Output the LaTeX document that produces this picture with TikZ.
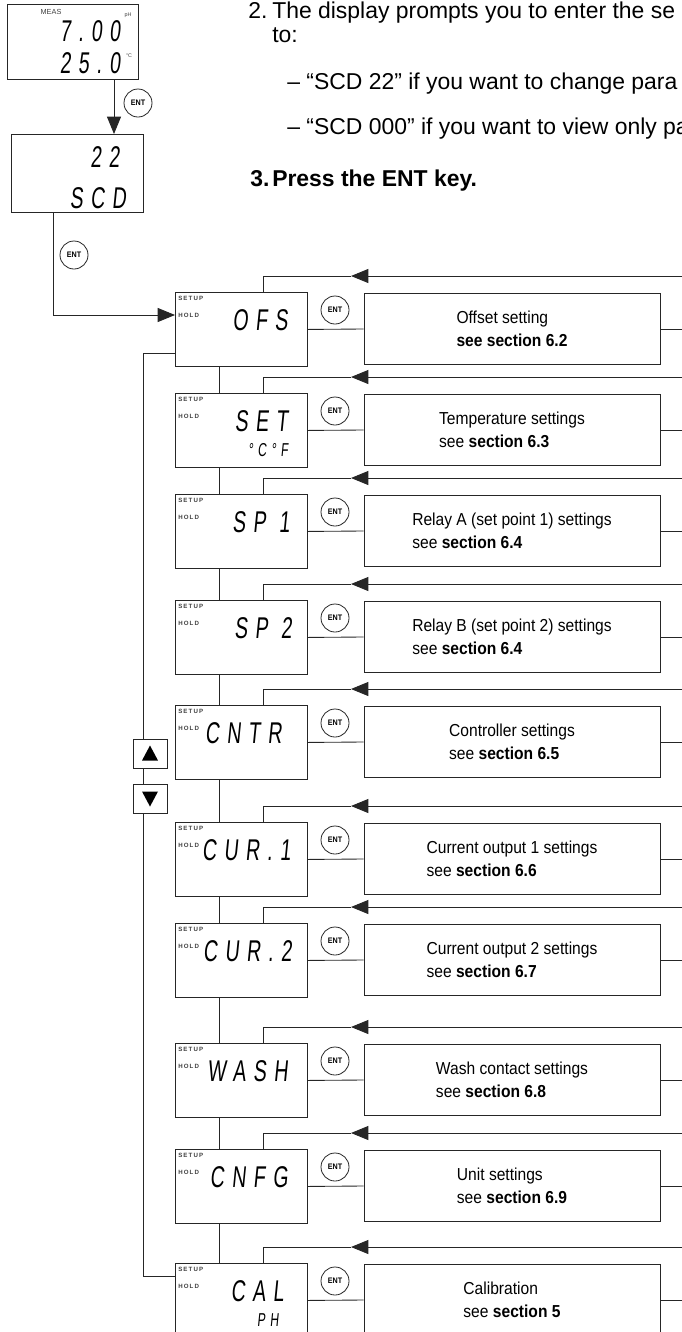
\documentclass[tikz,border=0pt]{standalone}
\usepackage{fontspec}
\setmainfont{Liberation Sans}
\newfontfamily\lcdfont[FakeSlant=0.1,FakeStretch=0.65,LetterSpace=25]{Liberation Sans}
\newfontfamily\narrowfont[FakeStretch=0.9]{Liberation Sans}
\usetikzlibrary{arrows.meta,calc,positioning}

\tikzset{
  wire/.style={black!85, line width=0.65pt},
  fwd/.style={wire, -{Triangle[length=13pt,width=10.5pt]}},
  panel/.style={draw=black!85, line width=0.65pt, inner sep=0pt, anchor=north west},
  dispbox/.style={panel, minimum width=99pt, minimum height=55.5pt},
  infobox/.style={draw=black!85, line width=0.65pt, minimum width=222pt, minimum height=53pt,
    inner sep=0pt, align=left, font=\narrowfont\fontsize{13}{17}\selectfont},
  entkey/.style={draw=black!85, line width=0.6pt, circle, minimum size=21pt, inner sep=0pt,
    font=\narrowfont\bfseries\fontsize{6}{6}\selectfont},
  lcd/.style={inner sep=0pt, font=\lcdfont\fontsize{22.5}{22.5}\selectfont},
  lcdsmall/.style={inner sep=0pt, font=\lcdfont\fontsize{14}{14}\selectfont},
  flag/.style={inner sep=0pt, text=black!75, font=\bfseries\fontsize{4.6}{4.6}\selectfont\addfontfeatures{LetterSpace=18}},
  prose/.style={inner sep=0pt, anchor=base west, font=\fontsize{17.2}{20}\selectfont},
  btn/.style={draw=black!85, line width=0.65pt, fill=white, minimum width=25.5pt, minimum height=21.75pt, inner sep=0pt}
}

\begin{document}
\begin{tikzpicture}[x=0.75pt,y=-0.75pt]
  \useasboundingbox (0,0) rectangle (682,1332);
  \clip (0,0) rectangle (682,1332);

  % measuring display and security code
  \node[panel, minimum width=98.25pt, minimum height=56.25pt] (meas) at (7,4) {};
  \node[flag, font=\fontsize{5.5}{5.5}\selectfont] (measlbl) at (51,12) {MEAS};
  \node[lcd] (phval) at (90,31) {7.00};
  \node[flag, font=\fontsize{4}{4}\selectfont] (phunit) at (128,15) {pH};
  \node[lcd] (tval) at (90,63) {25.0};
  \node[flag, font=\fontsize{4}{4}\selectfont] (tunit) at (129,56) {°C};

  \node[panel, minimum width=99pt, minimum height=58.5pt] (scd) at (11,134) {};
  \node[lcd] (code) at (105,157) {22};
  \node[lcd] (codelbl) at (98,198) {SCD};

  \coordinate (mdrop) at ($(meas.south west)+(107,0)$);
  \draw[fwd] (mdrop) -- (mdrop |- scd.north);
  \node[entkey] (mkey) at (138,103) {ENT};
  \node[entkey] (skey) at (74,255) {ENT};

  % instructions
  \node[prose] (step2) at (248,18) {2.};
  \node[prose] (prompt) at (272,18) {The display prompts you to enter the se};
  \node[prose] (prompt2) at (272,42) {to:};
  \node[prose] (opt1) at (287,89) {– “SCD 22” if you want to change para};
  \node[prose] (opt2) at (287,134) {– “SCD 000” if you want to view only pa};
  \node[prose, font=\bfseries\fontsize{17.2}{20}\selectfont] (step3) at (250,186) {3.};
  \node[prose, font=\bfseries\fontsize{17.2}{20}\selectfont] (press) at (272,186) {Press the ENT key.};

  % setup menu
  \foreach \nm/\yt/\lcdtxt/\cx/\sub/\ttl/\sct in {
      ofs/292/OFS/113//Offset setting/\textbf{see section 6.2},
      set/393/SET/113/°C°F/Temperature settings/see \textbf{section 6.3},
      spa/494/SP 1/115//Relay A (set point 1) settings/see \textbf{section 6.4},
      spb/600/SP 2/117//Relay B (set point 2) settings/see \textbf{section 6.4},
      cntr/705/CNTR/107//Controller settings/see \textbf{section 6.5},
      cura/822/CUR.1/116//Current output 1 settings/see \textbf{section 6.6},
      curb/923/CUR.2/117//Current output 2 settings/see \textbf{section 6.7},
      wash/1043/WASH/113//Wash contact settings/see \textbf{section 6.8},
      cnfg/1149/CNFG/113//Unit settings/see \textbf{section 6.9},
      cal/1263/CAL/109/PH/Calibration/see \textbf{section 5}}
  {
    \node[dispbox] (d-\nm) at (175,\yt) {};
    \node[flag, anchor=north west] (su-\nm) at ($(d-\nm.north west)+(3,4)$) {SETUP};
    \node[flag, anchor=west] (ho-\nm) at ($(d-\nm.north west)+(3,23)$) {HOLD};
    \node[lcd, anchor=east] (t-\nm) at ($(d-\nm.north west)+(\cx,28)$) {\lcdtxt};
    \node[lcdsmall] (x-\nm) at ($(d-\nm.north west)+(93,57)$) {\sub};
    \node[infobox] (r-\nm) at (512,\yt+37) {\ttl\\\sct};
    \node[entkey] (e-\nm) at (335,\yt+18) {ENT};
    \draw[wire] (d-\nm.east) -- (r-\nm.west);
    \draw[wire] (r-\nm.east) -- ++(40,0);
    \coordinate (rt-\nm) at (690,\yt-16);
    \coordinate (ah-\nm) at (351,\yt-16);
    \draw[fwd] (rt-\nm) -- (ah-\nm);
    \draw[wire] (ah-\nm) -| ($(d-\nm.north west)+(88,0)$);
  }

  \foreach \a/\b in {ofs/set, set/spa, spa/spb, spb/cntr, cntr/cura,
                     cura/curb, curb/wash, wash/cnfg, cnfg/cal}
    \draw[wire] ($(d-\a.south west)+(44,0)$) -- ($(d-\b.north west)+(44,0)$);

  % entry from code display, loop back from the last item
  \coordinate (sdrop) at ($(scd.south west)+(42,0)$);
  \draw[fwd] (sdrop) |- ($(d-ofs.north west)+(0,23)$);
  \draw[wire] ($(d-ofs.north west)+(0,61)$) -| ($(d-cal.north west)+(-32,13)$)
    -- ($(d-cal.north west)+(0,13)$);

  \node[btn] (up) at (150,753.5) {};
  \node[btn] (down) at (150,798.5) {};
  \fill ($(up.center)+(0,-8)$) -- ($(up.center)+(-8,7)$) -- ($(up.center)+(8,7)$) -- cycle;
  \fill ($(down.center)+(0,8)$) -- ($(down.center)+(-8,-7)$) -- ($(down.center)+(8,-7)$) -- cycle;
\end{tikzpicture}
\end{document}
